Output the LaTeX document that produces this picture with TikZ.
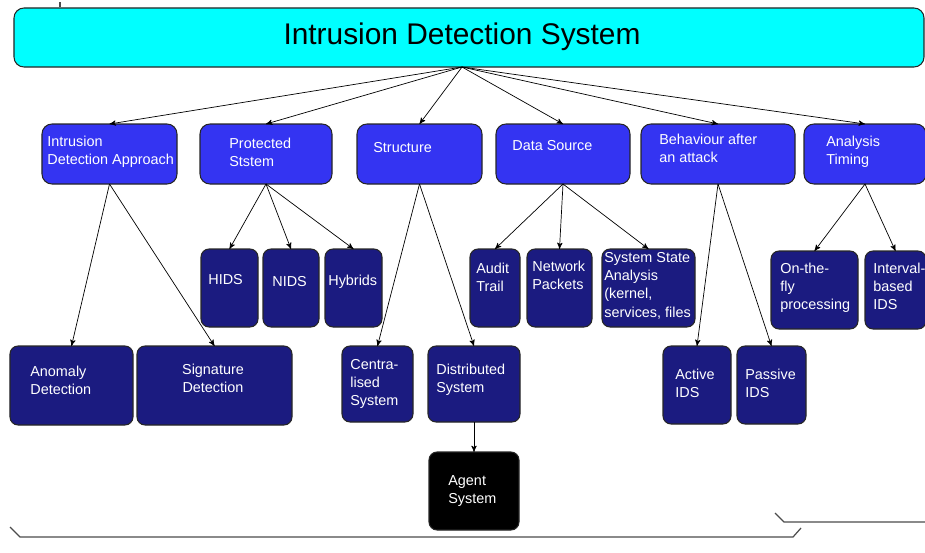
\documentclass[tikz,border=0pt]{standalone}
\usepackage{fontspec}
\setmainfont{Liberation Sans}
\usetikzlibrary{arrows}

\definecolor{idscyan}{HTML}{00FFFF}
\definecolor{idsblue}{HTML}{3434F2}
\definecolor{idsnavy}{HTML}{1B1B80}

\begin{document}
\begin{tikzpicture}[x=0.2mm,y=-0.2mm,->,>=stealth',thin,
  box/.style={rectangle,draw=black!85,line width=0.6pt,inner sep=0pt,outer sep=0pt},
  top box/.style={box,fill=idscyan,rounded corners=2mm,minimum width=182mm,minimum height=11.8mm},
  main box/.style={box,fill=idsblue,rounded corners=2mm,minimum height=12mm},
  sub box/.style={box,fill=idsnavy,rounded corners=1.6mm,minimum height=15.6mm},
  agent box/.style={sub box,fill=black},
  txt/.style={text=white,align=left,anchor=base west,inner sep=0pt,font=\fontsize{8.2}{10.4}\selectfont},
  bracket/.style={-,draw=black!70,line width=0.7pt}]

  \useasboundingbox (0,0) rectangle (925,552);

  % top (text nodes are placed at the baseline of their last line)
  \node[top box] (ids) at (469,37.5) {};
  \node[inner sep=0pt,font=\fontsize{17}{20}\selectfont] (idsT) at (462,36.5) {Intrusion Detection System};
  \coordinate (hub) at (462,67);

  % first level
  \node[main box,minimum width=27mm] (ida) at (109.5,154) {};
  \node[main box,minimum width=26.4mm] (prot) at (266,154) {};
  \node[main box,minimum width=25mm] (struc) at (419.5,154) {};
  \node[main box,minimum width=26.8mm] (dsrc) at (563,154) {};
  \node[main box,minimum width=30.8mm] (behav) at (718,154) {};
  \node[main box,minimum width=24.4mm] (timing) at (865,154) {};

  \node[txt] (idaT) at (47,164.3) {Intrusion\\Detection Approach};
  \node[txt] (protT) at (229,166.3) {Protected\\Ststem};
  \node[txt] (strucT) at (373,152) {Structure};
  \node[txt] (dsrcT) at (512,150) {Data Source};
  \node[txt] (behavT) at (659,162.3) {Behaviour after\\an attack};
  \node[txt] (timingT) at (826,164.3) {Analysis\\Timing};

  % second level
  \node[sub box,minimum width=11.4mm] (hids) at (229.5,288) {};
  \node[sub box,minimum width=11.2mm] (nids) at (291,288) {};
  \node[sub box,minimum width=11.4mm] (hyb) at (353.5,288) {};
  \node[sub box,minimum width=10mm] (audit) at (495,288) {};
  \node[sub box,minimum width=13mm] (netp) at (559.5,288) {};
  \node[sub box,minimum width=18.6mm] (sysst) at (648.5,288) {};
  \node[sub box,minimum width=17.4mm] (onfly) at (814.5,290) {};
  \node[sub box,minimum width=12.2mm] (intv) at (895.5,290) {};

  \node[txt] (hidsT) at (208,284) {HIDS};
  \node[txt] (nidsT) at (272,286) {NIDS};
  \node[txt] (hybT) at (328,285) {Hybrids};
  \node[txt] (auditT) at (476,291.3) {Audit\\Trail};
  \node[txt] (netpT) at (532,289.3) {Network\\Packets};
  \node[txt] (sysstT) at (604,317) {System State\\Analysis\\(kernel,\\services, files};
  \node[txt] (onflyT) at (780,309.7) {On-the-\\fly\\processing};
  \node[txt] (intvT) at (873,309.7) {Interval-\\based\\IDS};

  % third level
  \node[sub box,minimum width=24.6mm,minimum height=15.8mm] (ano) at (71.5,385.5) {};
  \node[sub box,minimum width=31mm,minimum height=15.8mm] (sig) at (214.5,385.5) {};
  \node[sub box,minimum width=14.2mm,minimum height=15.2mm] (cent) at (377.5,384) {};
  \node[sub box,minimum width=18.4mm,minimum height=15.2mm] (dist) at (474,384) {};
  \node[sub box,minimum width=13.6mm] (act) at (697,385) {};
  \node[sub box,minimum width=13.8mm] (pas) at (771.5,385) {};
  \node[agent box,minimum width=18mm] (agent) at (474,491) {};

  \node[txt] (anoT) at (30,394.3) {Anomaly\\Detection};
  \node[txt,align=center,anchor=base] (sigT) at (213,392.3) {Signature\\Detection};
  \node[txt] (centT) at (350,405.7) {Centra-\\lised\\System};
  \node[txt] (distT) at (436,392.3) {Distributed\\System};
  \node[txt] (actT) at (675,397.3) {Active\\IDS};
  \node[txt] (pasT) at (745,397.3) {Passive\\IDS};
  \node[txt] (agentT) at (448,503.3) {Agent\\System};

  % connectors
  \draw (hub) -- (ida.north);
  \draw (hub) -- (prot.north);
  \draw (hub) -- (struc.north);
  \draw (hub) -- (dsrc.north);
  \draw (hub) -- (behav.north);
  \draw (hub) -- (timing.north);

  \draw (ida.south) -- (ano.north);
  \draw (ida.south) -- (sig.north);
  \draw (prot.south) -- (hids.north);
  \draw (prot.south) -- (nids.north);
  \draw (prot.south) -- (hyb.north);
  \draw (struc.south) -- (cent.north);
  \draw (struc.south) -- (dist.north);
  \draw (dsrc.south) -- (audit.north);
  \draw (dsrc.south) -- (netp.north);
  \draw (dsrc.south) -- (sysst.north);
  \draw (behav.south) -- (act.north);
  \draw (behav.south) -- (pas.north);
  \draw (timing.south) -- (onfly.north);
  \draw (timing.south) -- (intv.north);
  \draw (dist.south) -- (agent.north);

  % brackets at the bottom
  \draw[bracket] (10,527) -- (20,537) -- (793,537) -- (801,528);
  \draw[bracket] (775,513) -- (784,522) -- (925,522);
  \draw[bracket] (60,2) -- (60,7);
\end{tikzpicture}
\end{document}
